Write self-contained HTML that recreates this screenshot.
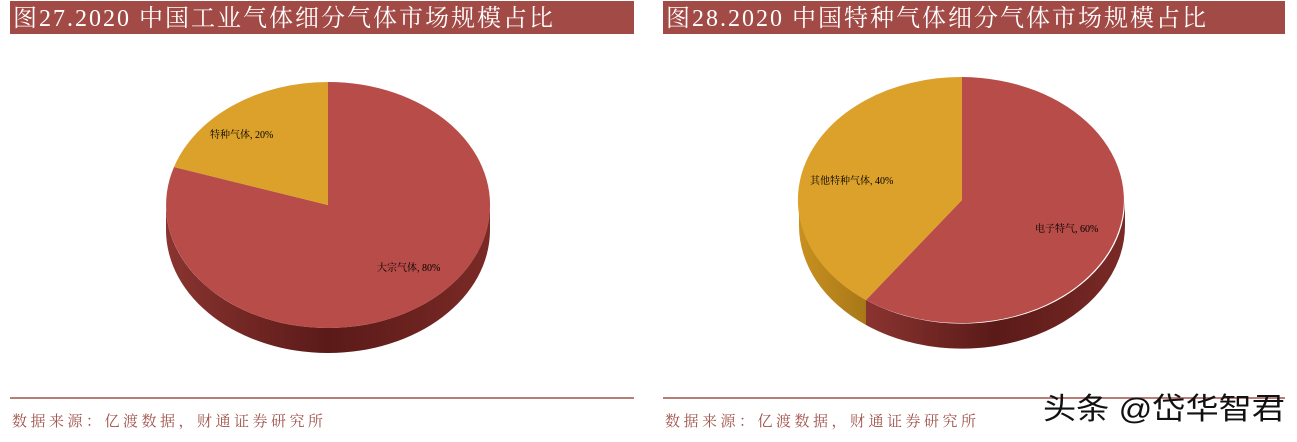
<!DOCTYPE html>
<html><head><meta charset="utf-8"><style>
body{margin:0;width:1297px;height:437px;background:#fff;overflow:hidden;font-family:"Liberation Serif","Noto Serif CJK SC",serif}
</style></head><body>
<svg width="1297" height="437" xmlns="http://www.w3.org/2000/svg">
<defs>
<linearGradient id="rs" x1="0" x2="1" y1="0" y2="0"><stop offset="0" stop-color="#8a3430"/><stop offset="0.5" stop-color="#5a1a18"/><stop offset="1" stop-color="#7a2a26"/></linearGradient>
<linearGradient id="ys" x1="0" x2="1"><stop offset="0" stop-color="#c89020"/><stop offset="1" stop-color="#a87818"/></linearGradient>
</defs>
<rect x="10" y="1" width="624" height="33" fill="#a24a45"/>
<text x="13" y="26" font-size="24" letter-spacing="2" fill="#fff" font-family="Liberation Serif,'Noto Serif CJK SC',serif">图27.2020 中国工业气体细分气体市场规模占比</text>
<rect x="663" y="1" width="622" height="33" fill="#a24a45"/>
<text x="666" y="26" font-size="24" letter-spacing="2" fill="#fff" font-family="Liberation Serif,'Noto Serif CJK SC',serif">图28.2020 中国特种气体细分气体市场规模占比</text>

<!-- Pie 1 -->
<path d="M166,205 A162,123 0 0 0 490,205 L490,230 A162,123 0 0 1 166,230 Z" fill="url(#rs)"/>
<path d="M328,205 L328,82 A162,123 0 1 1 174,167 Z" fill="#b84c48"/>
<path d="M328,205 L174,167 A162,123 0 0 1 328,82 Z" fill="#dca12a"/>
<text x="210" y="138" font-size="10" fill="#000">特种气体, 20%</text>
<text x="377" y="271" font-size="10" fill="#000">大宗气体, 80%</text>

<!-- Pie 2 -->
<path d="M799,200 A163,123 0 0 0 866,300 L866,325 A163,123 0 0 1 799,225 Z" fill="url(#ys)"/>
<path d="M866,300 A163,123 0 0 0 1125,200 L1125,225 A163,123 0 0 1 866,325 Z" fill="url(#rs)"/>
<path d="M962,200 L962,77 A163,123 0 1 1 866,300 Z" fill="#b84c48"/>
<path d="M962,200 L866,300 A163,123 0 0 1 962,77 Z" fill="#dca12a"/>
<text x="810" y="184" font-size="10" fill="#000">其他特种气体, 40%</text>
<text x="1035" y="232" font-size="10" fill="#000">电子特气, 60%</text>

<line x1="10" y1="398" x2="634" y2="398" stroke="#a0524a" stroke-width="1.5"/>
<line x1="663" y1="398" x2="1285" y2="398" stroke="#a0524a" stroke-width="1.5"/>
<text x="12" y="426" font-size="15" letter-spacing="3.5" fill="#a0524a">数据来源：亿渡数据，财通证券研究所</text>
<text x="665" y="426" font-size="15" letter-spacing="3.5" fill="#a0524a">数据来源：亿渡数据，财通证券研究所</text>
<text x="1043" y="419" font-size="30" fill="#111" font-family="Liberation Sans,'Noto Sans CJK SC',sans-serif" textLength="242" lengthAdjust="spacingAndGlyphs">头条 @岱华智君</text>
</svg>
</body></html>
